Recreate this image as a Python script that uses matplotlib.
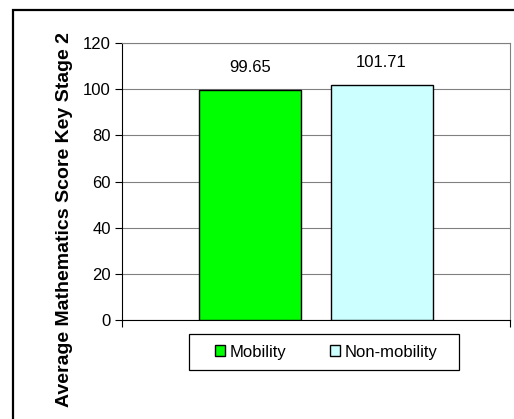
import matplotlib.pyplot as plt
from matplotlib.patches import Rectangle

plt.rcParams['font.family'] = ['Liberation Sans', 'DejaVu Sans']

groups = ["Mobility", "Non-mobility"]
scores = [99.65, 101.71]
colors = ["#00ff00", "#ccffff"]
yticks = [0, 20, 40, 60, 80, 100, 120]

W, H = 514, 419
fig = plt.figure(figsize=(W / 100, H / 100), dpi=100)

# outer chart frame, cut off at the right and bottom like the original
fig.patches.append(Rectangle((12.5 / W, -0.1), 1.2, 1 - 10.5 / H + 0.1,
                             transform=fig.transFigure, fill=False,
                             edgecolor="black", linewidth=1.6))

ax = fig.add_axes([122 / W, 1 - 320 / H, 388 / W, 277 / H])

width = 0.263
offsets = [-0.171, 0.169]
for off, val, col, name in zip(offsets, scores, colors, groups):
    b = ax.bar(off, val, width=width, color=col, edgecolor="black",
               linewidth=1.0, label=name, zorder=3)
    ax.bar_label(b, labels=[f"{val:.2f}"], padding=11, fontsize=12)

ax.set_xlim(-0.5, 0.5)
ax.set_ylim(0, 120)
ax.set_yticks(yticks)
ax.set_xticks([-0.5, 0.5])
ax.set_xticklabels([])
ax.tick_params(axis="y", direction="out", length=5, width=0.8,
               labelsize=12, pad=3, colors="black")
ax.tick_params(axis="x", direction="out", length=5, width=0.8)
ax.yaxis.grid(True, color="#808080", linewidth=0.8, zorder=0)
ax.set_axisbelow(True)
for s in ["top", "right"]:
    ax.spines[s].set_color("#808080")
for s in ["left", "bottom"]:
    ax.spines[s].set_color("black")

fig.text(65 / W, 1 - 220 / H, "Average Mathematics Score Key Stage 2",
         rotation=90, ha="center", va="center", fontsize=14,
         fontweight="bold")

# legend entries, with a plain box drawn round them
fig.legend(loc="center", bbox_to_anchor=(326 / W, 1 - 352 / H),
           ncol=2, fontsize=12, frameon=False,
           handlelength=0.6, handleheight=0.6,
           handletextpad=0.3, columnspacing=2.6, borderpad=0.0)
fig.patches.append(Rectangle((189 / W, 1 - 370 / H), 270 / W, 36 / H,
                             transform=fig.transFigure, fill=False,
                             edgecolor="black", linewidth=0.9))

fig.savefig("out.png", dpi=100)
